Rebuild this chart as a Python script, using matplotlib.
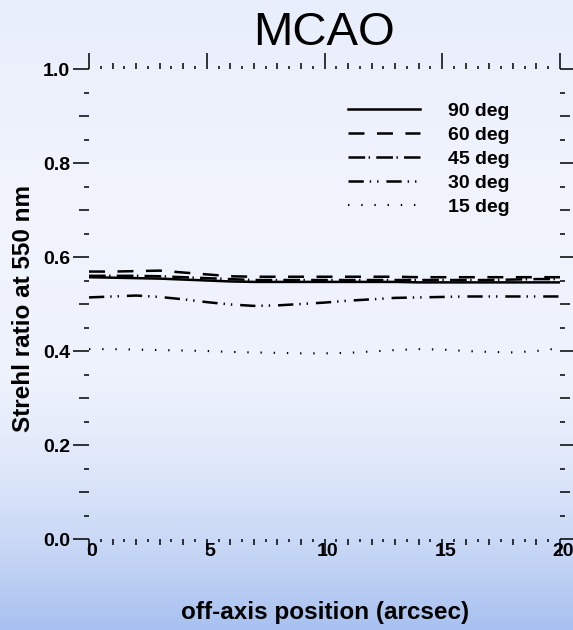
import numpy as np
import matplotlib
matplotlib.use("Agg")
import matplotlib.pyplot as plt
from matplotlib.ticker import FixedLocator, NullFormatter
import matplotlib.transforms as mtransforms

plt.rcParams['font.family'] = ['Liberation Sans', 'DejaVu Sans']
plt.rcParams['lines.scale_dashes'] = False

# ---------------- data ----------------
offaxis = [0, 1, 2, 3, 4, 5, 6, 7, 8, 9, 10, 11, 12, 13, 14, 15, 16, 17, 18, 19, 20]
strehl_90 = [0.557, 0.556, 0.555, 0.554, 0.552, 0.550, 0.548, 0.547, 0.547, 0.547, 0.547,
             0.547, 0.547, 0.547, 0.546, 0.546, 0.546, 0.546, 0.546, 0.546, 0.546]
strehl_60 = [0.569, 0.569, 0.570, 0.571, 0.567, 0.563, 0.559, 0.558, 0.558, 0.558, 0.558,
             0.558, 0.558, 0.558, 0.557, 0.557, 0.557, 0.557, 0.557, 0.557, 0.557]
strehl_45 = [0.560, 0.560, 0.560, 0.559, 0.557, 0.555, 0.553, 0.551, 0.551, 0.551, 0.551,
             0.551, 0.551, 0.551, 0.551, 0.551, 0.551, 0.551, 0.552, 0.553, 0.553]
strehl_30 = [0.514, 0.516, 0.518, 0.515, 0.510, 0.504, 0.499, 0.496, 0.497, 0.500, 0.503,
             0.507, 0.510, 0.513, 0.514, 0.515, 0.516, 0.516, 0.516, 0.516, 0.516]
strehl_15 = [0.404, 0.404, 0.403, 0.402, 0.401, 0.400, 0.398, 0.397, 0.396, 0.395, 0.395,
             0.396, 0.399, 0.402, 0.404, 0.403, 0.400, 0.398, 0.397, 0.400, 0.406]
series_labels = ["90 deg", "60 deg", "45 deg", "30 deg", "15 deg"]

x_major = [0, 5, 10, 15, 20]
x_major_labels = ["0", "5", "10", "15", "20"]
x_minor = [1, 2, 3, 4, 6, 7, 8, 9, 11, 12, 13, 14, 16, 17, 18, 19]
x_minor2 = [0.5, 1.5, 2.5, 3.5, 4.5, 5.5, 6.5, 7.5, 8.5, 9.5, 10.5, 11.5, 12.5, 13.5,
            14.5, 15.5, 16.5, 17.5, 18.5, 19.5]
y_major = [0.0, 0.2, 0.4, 0.6, 0.8, 1.0]
y_major_labels = ["0.0", "0.2", "0.4", "0.6", "0.8", "1.0"]
y_minor = [0.1, 0.3, 0.5, 0.7, 0.9]
y_minor2 = [0.05, 0.15, 0.25, 0.35, 0.45, 0.55, 0.65, 0.75, 0.85, 0.95]

# ---------------- figure ----------------
W, H = 573, 630
fig = plt.figure(figsize=(W / 100, H / 100), dpi=100)

# background gradient
bg = fig.add_axes([0, 0, 1, 1], zorder=-10)
stops = np.array([0.0, 0.3, 0.6, 0.75, 0.87, 1.0])
cols = np.array([[232, 238, 251], [241, 244, 253], [238, 242, 252],
                 [222, 231, 250], [200, 215, 246], [168, 193, 240]]) / 255.0
rows = np.linspace(0, 1, H)
grad = np.stack([np.interp(rows, stops, cols[:, c]) for c in range(3)], axis=1)
bg.imshow(grad[:, None, :], aspect='auto', extent=(0, 1, 0, 1))
bg.axis('off')

pos = [89 / W, (H - 539) / H, (560 - 89) / W, (539 - 69) / H]
ax = fig.add_axes(pos)
ax.set_facecolor('none')
for s in ax.spines.values():
    s.set_visible(False)
ax.set_xlim(0, 20)
ax.set_ylim(0, 1)

lw = 1.8
l90, = ax.plot(offaxis, strehl_90, color='black', lw=lw, linestyle='-')
l60, = ax.plot(offaxis, strehl_60, color='black', lw=lw, linestyle=(0, (11.5, 9)))
l45, = ax.plot(offaxis, strehl_45, color='black', lw=lw, linestyle=(0, (12, 2.5, 1, 4.5)))
l30, = ax.plot(offaxis, strehl_30, color='black', lw=lw,
               linestyle=(0, (11, 4.3, 1, 4.3, 1, 5.7)))
l15, = ax.plot(offaxis, strehl_15, color='black', lw=1.5, linestyle=(0, (1, 8.5)))

leg = ax.legend([l90, l60, l45, l30, l15], series_labels, loc='upper left',
                bbox_to_anchor=(0.55, 0.93), frameon=False, handlelength=3.7,
                handletextpad=1.45, labelspacing=0.33, borderpad=0, borderaxespad=0,
                prop={'weight': 'bold', 'size': 14})

# ticks
ax.xaxis.set_major_locator(FixedLocator(x_major))
ax.xaxis.set_minor_locator(FixedLocator(x_minor))
ax.yaxis.set_major_locator(FixedLocator(y_major))
ax.yaxis.set_minor_locator(FixedLocator(y_minor))
ax.set_xticklabels(x_major_labels, fontweight='bold')
ax.set_yticklabels(y_major_labels, fontweight='bold')
ax.xaxis.set_minor_formatter(NullFormatter())
ax.yaxis.set_minor_formatter(NullFormatter())
ax.tick_params(axis='both', which='major', direction='out', length=11.5, width=1.1,
               color='black', top=True, right=True, labelsize=14)
ax.tick_params(axis='x', which='major', pad=-8.6)
ax.tick_params(axis='y', which='major', pad=2.2)
ax.tick_params(axis='x', which='minor', direction='out', length=4.3, width=1.1,
               top=True, bottom=True)
ax.tick_params(axis='y', which='minor', direction='out', length=7.2, width=1.1,
               left=True, right=True)
shift = mtransforms.ScaledTranslation(3 / 100, 0, fig.dpi_scale_trans)
for lab in ax.get_xticklabels():
    lab.set_transform(lab.get_transform() + shift)

# overlay axes for the finest tick marks
ax2 = fig.add_axes(pos)
ax2.set_facecolor('none')
ax2.patch.set_alpha(0)
for s in ax2.spines.values():
    s.set_visible(False)
ax2.set_xlim(0, 20)
ax2.set_ylim(0, 1)
ax2.xaxis.set_major_locator(FixedLocator(x_minor2))
ax2.yaxis.set_major_locator(FixedLocator(y_minor2))
ax2.tick_params(axis='x', which='major', direction='out', length=2.5, width=1.1,
                top=True, bottom=True, labelbottom=False, labeltop=False)
ax2.tick_params(axis='y', which='major', direction='out', length=3.6, width=1.1,
                left=True, right=True, labelleft=False, labelright=False)

# texts
fig.text(324 / W, 1 - 45 / H, "MCAO", ha='center', va='baseline', fontsize=34)
fig.text(325 / W, 1 - 619 / H, "off-axis position (arcsec)", ha='center', va='baseline',
         fontsize=17.5, fontweight='bold')
fig.text(24 / W, 1 - 308 / H, "Strehl ratio at 550 nm", ha='center', va='center',
         rotation=90, fontsize=17.5, fontweight='bold')

fig.savefig("out.png", dpi=100)
